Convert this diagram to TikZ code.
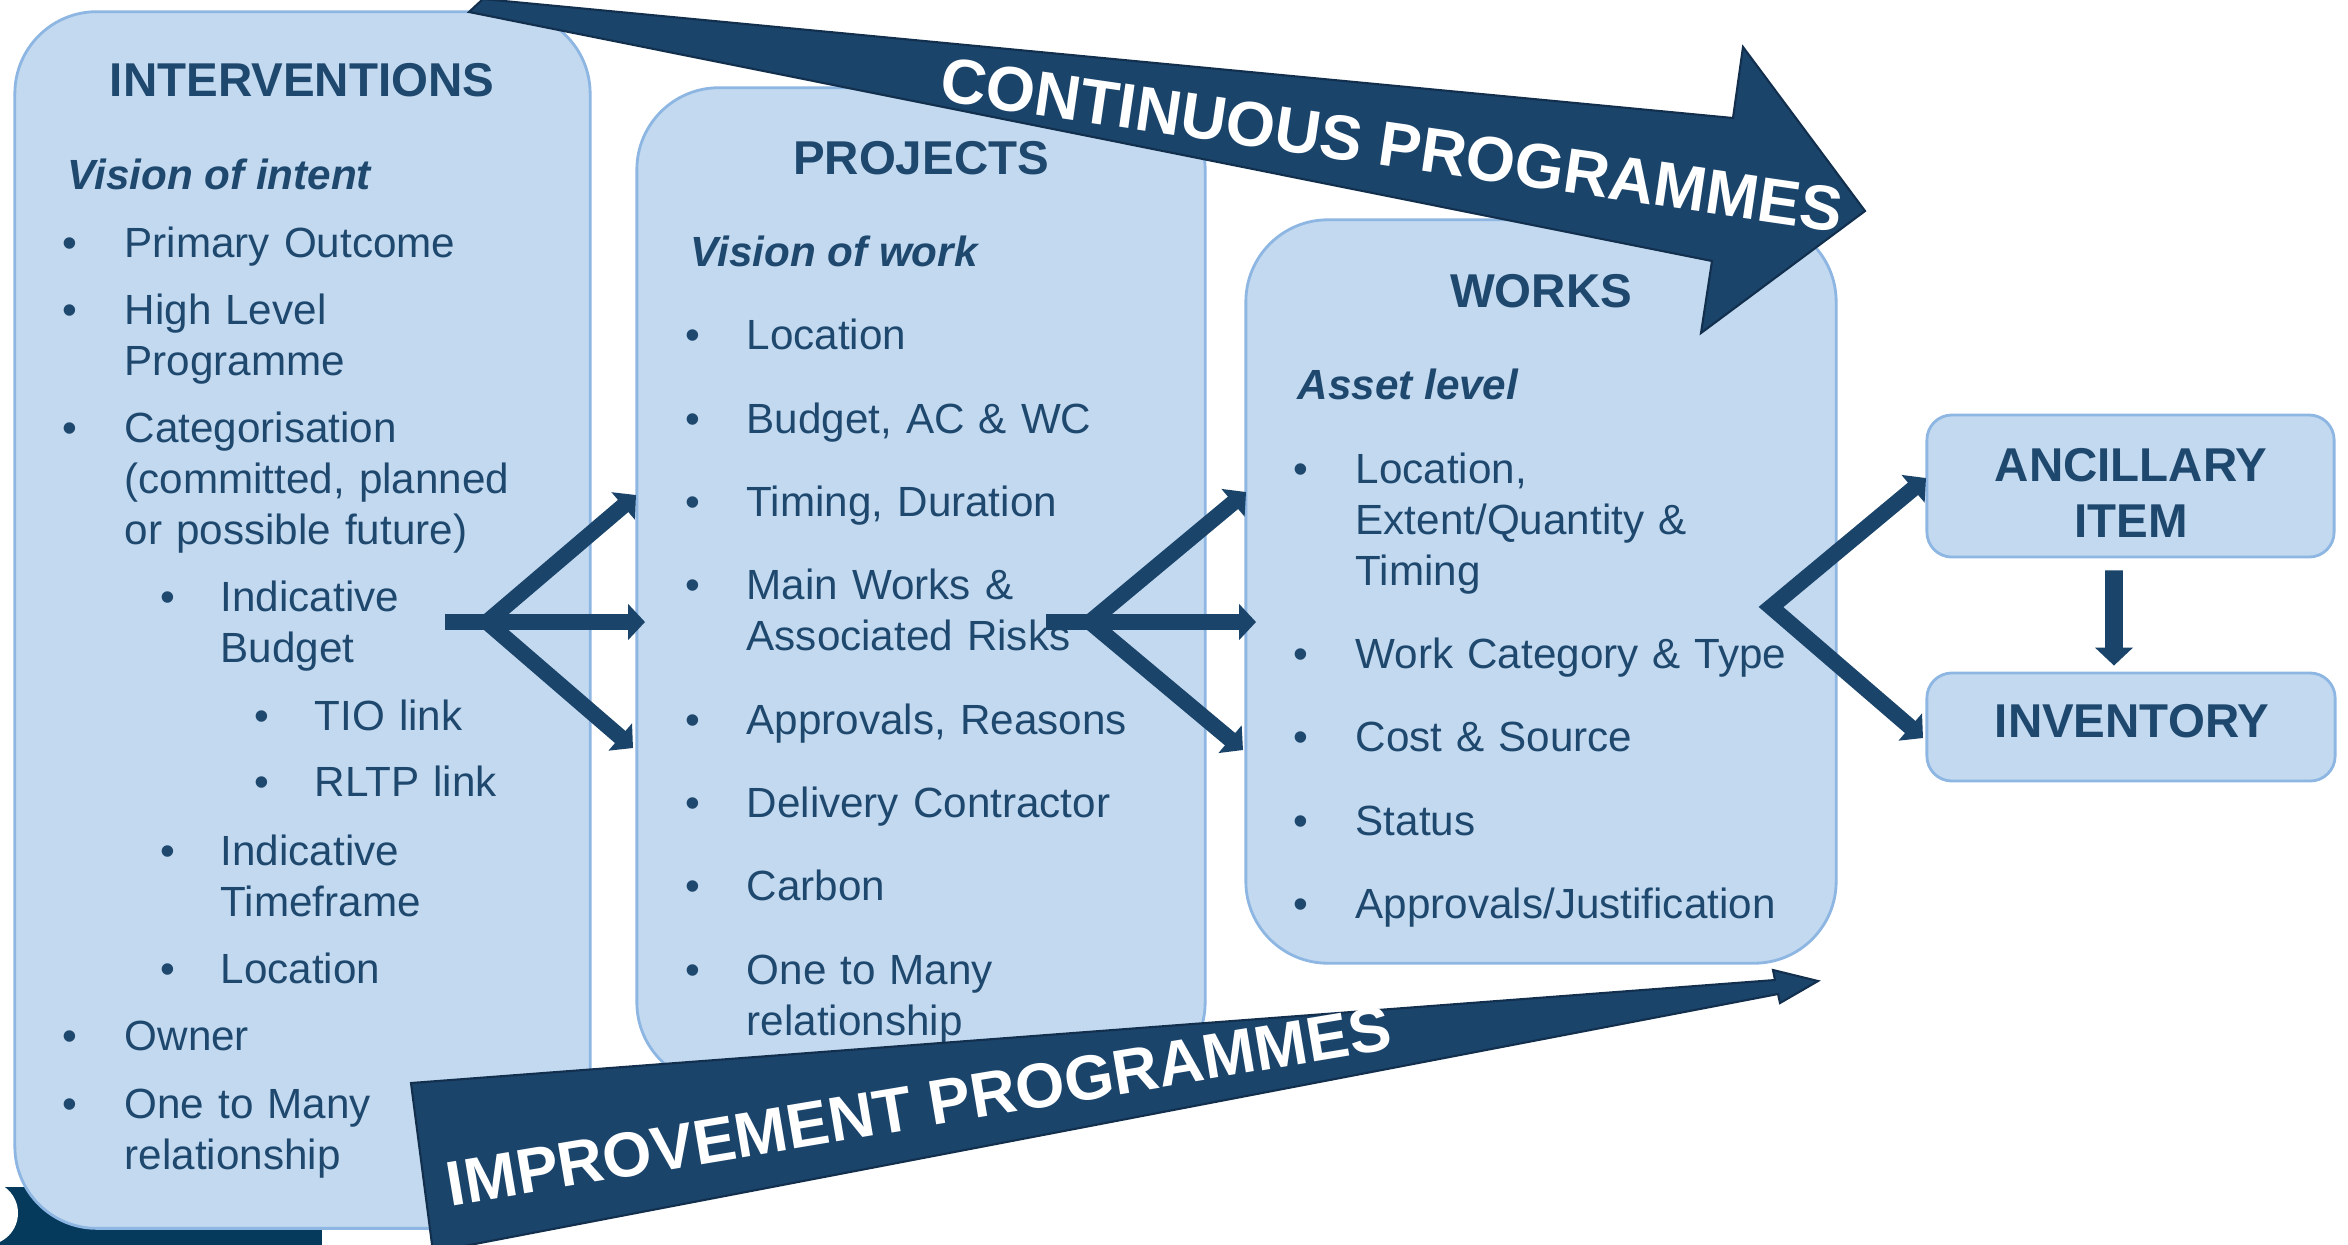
\documentclass[tikz,border=0pt]{standalone}
\usepackage{fontspec}
\setmainfont{Liberation Sans}
\usetikzlibrary{arrows.meta, positioning}
\definecolor{boxfill}{HTML}{C2D9EF}
\definecolor{boxline}{HTML}{8DB6E2}
\definecolor{navy}{HTML}{1F486E}
\definecolor{arrowfill}{HTML}{1B446B}
\definecolor{arrowline}{HTML}{12304E}
\definecolor{deepblue}{HTML}{053A5C}
\tikzstyle{bigbox}=[rectangle, draw=boxline, fill=boxfill, line width=0.8pt, rounded corners=0.82cm]
\tikzstyle{smallbox}=[rectangle, draw=boxline, fill=boxfill, line width=0.8pt, rounded corners=0.25cm]
\tikzstyle{head}=[text=navy, font=\fontsize{13.5}{16.2}\selectfont\bfseries, inner sep=0pt, anchor=base, text width=3.9cm, align=center]
\tikzstyle{vision}=[text=navy, font=\fontsize{12}{14.5}\selectfont\bfseries\itshape, inner sep=0pt, anchor=base west]
\tikzstyle{item}=[text=navy, font=\fontsize{12}{14.5}\selectfont, inner sep=0pt, anchor=base west, text width=4.5cm, align=left]
\tikzstyle{dot}=[text=navy, font=\fontsize{12}{14.5}\selectfont, inner sep=0pt, anchor=base]
\tikzstyle{prog}=[text=white, font=\fontsize{18}{21}\selectfont\bfseries, inner sep=0pt]
\tikzstyle{fork}=[draw=arrowfill, line width=4.55pt, line join=miter, >={Triangle[length=4.8pt,width=10pt]}]
\tikzstyle{down}=[draw=arrowfill, line width=5.1pt, >={Triangle[length=5.1pt,width=10.5pt]}]

\begin{document}
\begin{tikzpicture}[x=0.01cm, y=-0.01cm]
    \useasboundingbox (0,0) rectangle (2348,1244);
    \clip (0,0) rectangle (2348,1244);

    % scrap of the slide behind
    \fill[deepblue] (0,1187) rectangle (322,1252);
    \fill[white] (-14,1213) circle (32);

    % boxes
    \node[bigbox, minimum width=5.75cm, minimum height=12.16cm] (interv) at (302.5,620) {};
    \node[bigbox, minimum width=5.68cm, minimum height=9.96cm] (proj) at (921,586) {};
    \node[bigbox, minimum width=5.90cm, minimum height=7.43cm] (works) at (1541,591.5) {};
    \node[smallbox, minimum width=4.07cm, minimum height=1.42cm] (anc) at (2130.5,486) {};
    \node[smallbox, minimum width=4.08cm, minimum height=1.08cm] (inv) at (2131,727) {};

    % titles
    \node[head] (tint) at (302,96) {INTERVENTIONS};
    \node[head] (tproj) at (921,174) {PROJECTS};
    \node[head] (twork) at (1541,307) {WORKS};
    \node[head] (tanc) at (2131,481) {ANCILLARY\\ITEM};
    \node[head] (tinv) at (2132,737) {INVENTORY};

    \node[vision] (vint) at (67,189) {Vision of intent};
    \node[vision] (vwork) at (690,266) {Vision of work};
    \node[vision] (vasset) at (1297,399) {Asset level};

    % interventions list
    \foreach \y/\t [count=\n] in {257/Primary Outcome, 324/{High Level\\Programme},
        442/{Categorisation\\(committed, planned\\or possible future)}, 1050/Owner,
        1118/{One to Many\\relationship}} {
        \node[dot] (ia\n) at (70,\y) {\textbullet};
        \node[item] (ta\n) at (124,\y) {\t};
    }
    \foreach \y/\t [count=\n] in {611/{Indicative\\Budget}, 865/{Indicative\\Timeframe}, 983/Location} {
        \node[dot] (ib\n) at (168,\y) {\textbullet};
        \node[item] (tb\n) at (220,\y) {\t};
    }
    \foreach \y/\t [count=\n] in {730/TIO link, 796/RLTP link} {
        \node[dot] (ic\n) at (262,\y) {\textbullet};
        \node[item] (tc\n) at (314,\y) {\t};
    }

    % projects list
    \foreach \y/\t [count=\n] in {349/Location, 433/{Budget, AC \& WC}, 516/{Timing, Duration},
        599/{Main Works \&\\Associated Risks}, 734/{Approvals, Reasons}, 817/Delivery Contractor,
        900/Carbon, 984/{One to Many\\relationship}} {
        \node[dot] (pa\n) at (693,\y) {\textbullet};
        \node[item] (tp\n) at (746,\y) {\t};
    }

    % works list
    \foreach \y/\t [count=\n] in {483/{Location,\\Extent/Quantity \&\\Timing}, 668/{Work Category \& Type},
        751/{Cost \& Source}, 835/Status, 918/{Approvals/Justification}} {
        \node[dot] (wa\n) at (1301,\y) {\textbullet};
        \node[item] (tw\n) at (1355,\y) {\t};
    }

    % big programme arrows
    \fill[arrowfill, draw=arrowline, line width=0.6pt] (469,12) -- (483,-1) -- (1733,118) -- (1743,47)
        -- (1865,211) -- (1701,333) -- (1712,261) -- cycle;
    \fill[arrowfill, draw=arrowline, line width=0.6pt] (411,1083) -- (1775,980) -- (1773,970)
        -- (1818,981) -- (1780,1003) -- (1778,994) -- (433,1252) -- cycle;
    \node[prog, rotate=-8.3] (cont) at (1392,145) {CONTINUOUS PROGRAMMES};
    \node[prog, rotate=9.5] (impr) at (919,1106) {IMPROVEMENT PROGRAMMES};

    % forks between the boxes
    \coordinate (s1) at (445,622);
    \coordinate (j1) at (487,622);
    \coordinate (t1a) at (636,495);
    \coordinate (t1b) at (645,622);
    \coordinate (t1c) at (633,748);
    \draw[fork] (s1) -- (j1);
    \draw[fork, ->] (j1) -- (t1b);
    \draw[fork, <->] (t1a) -- (j1) -- (t1c);

    \coordinate (s2) at (1046,622);
    \coordinate (j2) at (1090,622);
    \coordinate (t2a) at (1246,492);
    \coordinate (t2b) at (1256,622);
    \coordinate (t2c) at (1243,750);
    \draw[fork] (s2) -- (j2);
    \draw[fork, ->] (j2) -- (t2b);
    \draw[fork, <->] (t2a) -- (j2) -- (t2c);

    \coordinate (j3) at (1771,607);
    \coordinate (t3a) at (1926,478);
    \coordinate (t3c) at (1923,738);
    \draw[fork, <->] (t3a) -- (j3) -- (t3c);

    \draw[down, ->] ([xshift=-0.165cm, yshift=-0.12cm]anc.south) -- ([xshift=-0.17cm, yshift=0.06cm]inv.north);
\end{tikzpicture}
\end{document}
